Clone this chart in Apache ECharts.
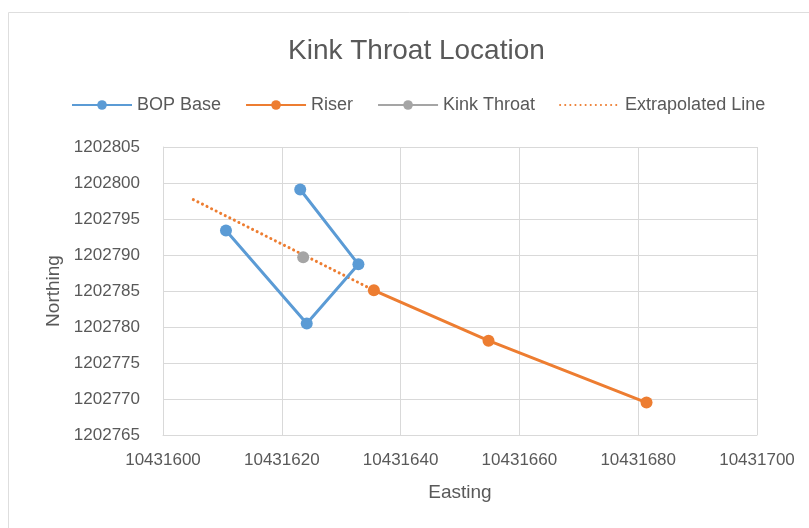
<!DOCTYPE html>
<html>
<head>
<meta charset="utf-8">
<script src="https://cdn.jsdelivr.net/npm/echarts@6/dist/echarts.min.js"></script>
<style>
  html, body { margin: 0; padding: 0; background: #fff; }
  #chart { width: 809px; height: 528px; }
</style>
</head>
<body>
<div id="chart"></div>
<script>
// values (easting, northing)
const bopBase = [
  [10431610.6, 1202793.4],
  [10431624.2, 1202780.5],
  [10431632.9, 1202788.7],
  [10431623.1, 1202799.1],
]
const riser = [
  [10431635.5, 1202785.1],
  [10431654.8, 1202778.1],
  [10431681.4, 1202769.5],
]
const kinkThroat = [[10431623.6, 1202789.7]]
const extrapolated = [
  [10431605.1, 1202797.7],
  [10431635.5, 1202785.1],
]

const xTicks = { min: 10431600, max: 10431700, step: 20 }
const yTicks = { min: 1202765, max: 1202805, step: 5 }

const textColor = '#595959'
const gridColor = '#d9d9d9'
const font = "'Liberation Sans', 'Open Sans', sans-serif"

const myChart = echarts.init(document.getElementById('chart'))

const lineSeries = (name, data, color) => ({
  name,
  type: 'line',
  data,
  color,
  symbol: 'circle',
  symbolSize: 12,
  lineStyle: { width: 3, color },
  itemStyle: { color },
  z: 3,
})

const option = {
  animation: false,
  textStyle: { fontFamily: font },
  graphic: [
    {
      // faint chart-area border, only top and left edges show
      type: 'rect',
      left: 6,
      top: 10,
      shape: { width: 900, height: 600 },
      style: { fill: 'none', stroke: '#dedede', lineWidth: 1 },
      silent: true,
    },
  ],
  title: {
    text: 'Kink Throat Location',
    left: 283,
    top: 32,
    textStyle: { fontSize: 28, fontWeight: 'normal', color: textColor, fontFamily: font },
  },
  legend: {
    top: 91,
    left: 66,
    itemWidth: 60,
    itemHeight: 12,
    itemGap: 24,
    textStyle: { fontSize: 18, color: textColor, fontFamily: font },
    data: [
      'BOP Base',
      'Riser',
      'Kink Throat',
      { name: 'Extrapolated Line', itemStyle: { opacity: 0 } },
    ],
  },
  grid: { left: 163, right: 52, top: 147, bottom: 93 },
  xAxis: {
    type: 'value',
    min: xTicks.min,
    max: xTicks.max,
    interval: xTicks.step,
    name: 'Easting',
    nameLocation: 'middle',
    nameGap: 48,
    nameTextStyle: { fontSize: 19, color: textColor },
    axisLine: { show: true, lineStyle: { color: gridColor } },
    axisTick: { show: false },
    axisLabel: { color: textColor, fontSize: 17, margin: 17, formatter: (v) => String(v) },
    splitLine: { lineStyle: { color: gridColor } },
  },
  yAxis: {
    type: 'value',
    min: yTicks.min,
    max: yTicks.max,
    interval: yTicks.step,
    name: 'Northing',
    nameLocation: 'middle',
    nameGap: 100,
    nameRotate: 90,
    nameTextStyle: { fontSize: 19, color: textColor },
    axisLine: { show: true, lineStyle: { color: gridColor } },
    axisTick: { show: false },
    axisLabel: { color: textColor, fontSize: 17, margin: 23, formatter: (v) => String(v) },
    splitLine: { lineStyle: { color: gridColor } },
  },
  series: [
    lineSeries('BOP Base', bopBase, '#5b9bd5'),
    lineSeries('Riser', riser, '#ed7d31'),
    lineSeries('Kink Throat', kinkThroat, '#a5a5a5'),
    {
      name: 'Extrapolated Line',
      type: 'line',
      data: extrapolated,
      color: '#ed7d31',
      symbol: 'none',
      lineStyle: { width: 3, color: '#ed7d31', type: [0.1, 5], cap: 'round' },
      z: 2,
    },
  ],
}

option && myChart.setOption(option)
</script>
</body>
</html>
